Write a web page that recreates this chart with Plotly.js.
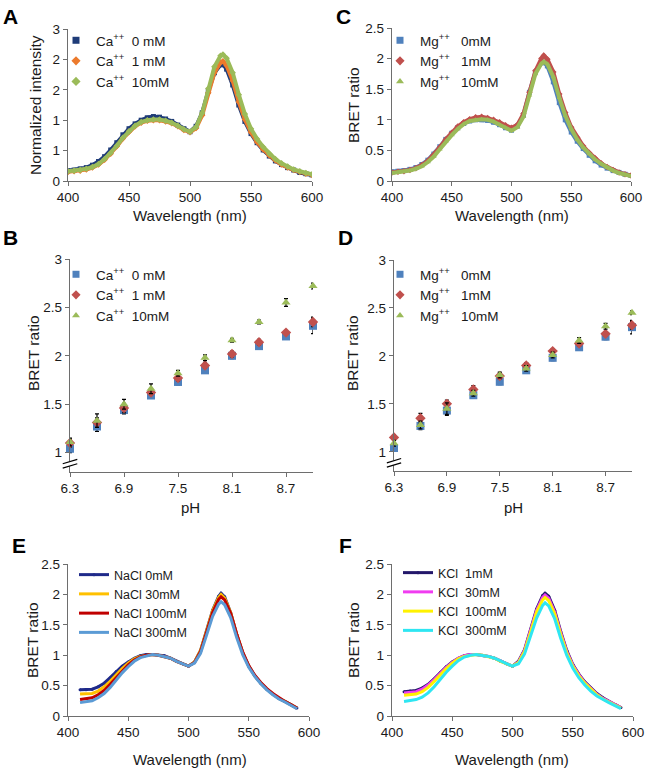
<!DOCTYPE html>
<html><head><meta charset="utf-8">
<script src="https://cdn.plot.ly/plotly-3.0.1.min.js"></script>
<style>html,body{margin:0;padding:0;background:#fff}#chart{width:648px;height:768px}</style>
</head><body><div id="chart"></div>
<script>
// ---------- DATA ----------
// Panels A & C: wavelength (nm)
const wlAC = [400,405,410,415,420,425,430,435,440,445,450,455,460,465,470,475,480,485,490,495,500,505,510,515,520,525,527,530,535,540,545,550,555,560,565,570,575,580,585,590,595,600];
// Panel A: Ca++
const namesA = ['Ca<sup>++</sup>  0 mM','Ca<sup>++</sup>  1 mM','Ca<sup>++</sup>  10mM'];
const ca0  = [0.17,0.18,0.20,0.22,0.26,0.32,0.40,0.51,0.63,0.76,0.86,0.94,1.00,1.04,1.06,1.05,1.02,0.98,0.92,0.86,0.81,0.90,1.12,1.48,1.78,1.91,1.92,1.84,1.58,1.25,0.98,0.78,0.63,0.51,0.41,0.33,0.27,0.22,0.18,0.14,0.12,0.10];
const ca1  = [0.15,0.16,0.17,0.19,0.22,0.27,0.35,0.45,0.57,0.70,0.81,0.90,0.96,0.99,1.00,1.00,0.98,0.95,0.90,0.84,0.80,0.87,1.08,1.45,1.78,1.95,1.97,1.90,1.65,1.30,1.01,0.80,0.64,0.52,0.42,0.34,0.27,0.22,0.18,0.15,0.12,0.10];
const ca10 = [0.16,0.17,0.18,0.20,0.23,0.28,0.36,0.46,0.58,0.71,0.82,0.91,0.97,1.00,1.01,1.01,0.99,0.96,0.91,0.85,0.81,0.89,1.12,1.52,1.88,2.06,2.08,2.02,1.78,1.42,1.10,0.86,0.69,0.56,0.45,0.36,0.29,0.24,0.19,0.16,0.13,0.11];
const ticktextA = ['0','1','1','2','2','3'];
// Panel C: Mg++
const namesC = ['Mg<sup>++</sup>   0mM','Mg<sup>++</sup>   1mM','Mg<sup>++</sup>   10mM'];
const mg0  = [0.15,0.16,0.17,0.19,0.22,0.27,0.34,0.44,0.56,0.68,0.78,0.87,0.94,0.98,1.00,1.00,0.99,0.96,0.92,0.87,0.83,0.90,1.08,1.45,1.78,1.93,1.94,1.88,1.62,1.28,1.00,0.80,0.65,0.53,0.42,0.33,0.26,0.21,0.17,0.14,0.11,0.09];
const mg1  = [0.14,0.15,0.16,0.18,0.21,0.26,0.33,0.43,0.55,0.68,0.79,0.89,0.96,1.01,1.04,1.05,1.03,1.00,0.96,0.91,0.87,0.92,1.10,1.45,1.80,2.00,2.05,1.99,1.78,1.42,1.12,0.88,0.71,0.57,0.46,0.37,0.29,0.23,0.18,0.14,0.11,0.09];
const mg10 = [0.13,0.14,0.15,0.17,0.20,0.24,0.31,0.40,0.52,0.64,0.75,0.85,0.93,0.98,1.00,1.01,1.00,0.97,0.92,0.87,0.82,0.88,1.05,1.40,1.75,1.92,1.95,1.91,1.70,1.36,1.07,0.85,0.68,0.55,0.44,0.35,0.28,0.22,0.17,0.13,0.10,0.08];
// Panels B & D: pH
const pH = [6.3,6.6,6.9,7.2,7.5,7.8,8.1,8.4,8.7,9.0];
const pHticks = [6.3,6.9,7.5,8.1,8.7];
const namesB = ['Ca<sup>++</sup>  0 mM','Ca<sup>++</sup>  1 mM','Ca<sup>++</sup>  10mM'];
const bCa0  = [1.04,1.27,1.44,1.59,1.73,1.85,2.00,2.10,2.20,2.31];
const bCa1  = [1.10,1.31,1.46,1.62,1.77,1.90,2.02,2.14,2.24,2.35];
const bCa10 = [1.11,1.33,1.50,1.66,1.82,1.98,2.16,2.35,2.55,2.72];
const eCa0  = [0.04,0.05,0.04,0.03,0.03,0.03,0.03,0.03,0.03,0.08];
const eCa1  = [0.04,0.05,0.05,0.03,0.03,0.03,0.03,0.03,0.02,0.05];
const eCa10 = [0.04,0.07,0.05,0.05,0.03,0.03,0.02,0.02,0.04,0.03];
const namesD = ['Mg<sup>++</sup>   0mM','Mg<sup>++</sup>   1mM','Mg<sup>++</sup>   10mM'];
const dMg0  = [1.04,1.27,1.43,1.59,1.73,1.85,1.98,2.09,2.20,2.30];
const dMg1  = [1.15,1.35,1.50,1.65,1.79,1.90,2.05,2.13,2.23,2.32];
const dMg10 = [1.09,1.28,1.45,1.61,1.80,1.87,2.01,2.16,2.31,2.45];
const eMg0  = [0.03,0.04,0.05,0.03,0.03,0.03,0.03,0.03,0.03,0.07];
const eMg1  = [0.03,0.05,0.04,0.04,0.03,0.03,0.02,0.03,0.02,0.04];
const eMg10 = [0.03,0.04,0.06,0.03,0.03,0.03,0.03,0.03,0.03,0.02];
// Panels E & F: wavelength (nm)
const wlEF = [410,415,420,425,430,435,440,445,450,455,460,465,470,475,480,485,490,495,500,505,510,515,520,525,527,530,535,540,545,550,555,560,565,570,575,580,585,590];
const namesE = ['NaCl 0mM','NaCl 30mM','NaCl 100mM','NaCl 300mM'];
const na0   = [0.43,0.43,0.44,0.48,0.54,0.63,0.73,0.82,0.89,0.95,0.99,1.01,1.01,1.00,0.99,0.95,0.90,0.86,0.82,0.89,1.08,1.40,1.74,1.97,2.02,1.96,1.70,1.34,1.04,0.82,0.66,0.54,0.44,0.36,0.29,0.24,0.19,0.13];
const na30  = [0.36,0.36,0.37,0.41,0.48,0.57,0.68,0.78,0.87,0.94,0.98,1.00,1.01,1.00,0.98,0.95,0.90,0.86,0.82,0.89,1.08,1.40,1.73,1.95,2.00,1.94,1.70,1.34,1.04,0.82,0.66,0.54,0.44,0.36,0.29,0.24,0.19,0.13];
const na100 = [0.27,0.28,0.30,0.35,0.42,0.52,0.63,0.74,0.84,0.92,0.97,1.00,1.01,1.00,0.98,0.95,0.90,0.86,0.82,0.88,1.06,1.38,1.70,1.92,1.96,1.91,1.69,1.35,1.05,0.83,0.67,0.55,0.45,0.37,0.30,0.24,0.19,0.13];
const na300 = [0.22,0.23,0.25,0.30,0.37,0.47,0.59,0.71,0.81,0.90,0.96,0.99,1.01,1.00,0.98,0.95,0.90,0.86,0.82,0.87,1.03,1.33,1.64,1.84,1.88,1.83,1.62,1.29,1.01,0.80,0.65,0.53,0.43,0.35,0.28,0.23,0.18,0.12];
const namesF = ['KCl  1mM','KCl  30mM','KCl  100mM','KCl  300mM'];
const k1   = [0.40,0.41,0.42,0.46,0.52,0.61,0.71,0.81,0.89,0.95,0.99,1.01,1.01,1.00,0.98,0.95,0.90,0.86,0.82,0.90,1.09,1.42,1.76,1.98,2.02,1.97,1.74,1.39,1.08,0.85,0.69,0.56,0.46,0.37,0.30,0.24,0.19,0.14];
const k30  = [0.38,0.39,0.40,0.44,0.51,0.60,0.70,0.80,0.88,0.95,0.99,1.01,1.01,1.00,0.98,0.95,0.90,0.86,0.82,0.89,1.08,1.41,1.74,1.95,1.99,1.94,1.71,1.37,1.06,0.84,0.68,0.55,0.45,0.36,0.29,0.24,0.19,0.14];
const k100 = [0.34,0.35,0.36,0.40,0.47,0.57,0.68,0.78,0.87,0.94,0.98,1.00,1.01,1.00,0.98,0.95,0.90,0.86,0.82,0.88,1.06,1.38,1.71,1.91,1.95,1.90,1.68,1.34,1.04,0.82,0.66,0.54,0.44,0.35,0.28,0.23,0.18,0.13];
const k300 = [0.24,0.25,0.27,0.31,0.38,0.48,0.60,0.72,0.82,0.91,0.97,1.00,1.01,1.00,0.98,0.95,0.90,0.86,0.82,0.86,1.02,1.31,1.61,1.82,1.86,1.81,1.60,1.28,1.00,0.79,0.63,0.51,0.41,0.33,0.27,0.22,0.17,0.12];

// ---------- STYLE ----------
const FONT = '"Liberation Sans", Arial, sans-serif';
const W = 648, H = 768;
const px = v => v / W, py = v => 1 - v / H;
const AX = '#6e6e6e';
const TXT = '#1a1a1a';
const colA = ['#1f3c78','#ec7a2c','#9bbb59'];
const colC = ['#4f81bd','#c0504d','#9bbb59'];
const colE = ['#1f2a8a','#ffc000','#c00000','#5b9bd5'];
const colF = ['#23176a','#f03cf0','#fff200','#2ee6f2'];

const traces = [];
function spectra(xs, ys, names, cols, syms, ax, leg) {
  ys.forEach((y, i) => {
    traces.push({x: xs, y: y, type: 'scatter', mode: 'lines+markers', xaxis: 'x' + ax, yaxis: 'y' + ax,
      line: {color: cols[i], width: 4}, marker: {color: cols[i], symbol: syms[i], size: 5},
      showlegend: false, hoverinfo: 'skip'});
  });
  names.forEach((n, i) => {
    traces.push({x: [null], y: [null], type: 'scatter', mode: 'markers', name: n, legend: leg,
      xaxis: 'x' + ax, yaxis: 'y' + ax, marker: {color: cols[i], symbol: syms[i], size: 7}});
  });
}
function phPanel(ys, errs, names, cols, syms, ax, leg) {
  ys.forEach((y, i) => {
    traces.push({x: pH, y: y, type: 'scatter', mode: 'markers', xaxis: 'x' + ax, yaxis: 'y' + ax,
      marker: {color: cols[i], symbol: syms[i], size: 8}, cliponaxis: false,
      error_y: {type: 'data', array: errs[i], visible: true, color: '#000', thickness: 1.2, width: 2},
      showlegend: false, hoverinfo: 'skip'});
  });
  names.forEach((n, i) => {
    traces.push({x: [null], y: [null], type: 'scatter', mode: 'markers', name: n, legend: leg,
      xaxis: 'x' + ax, yaxis: 'y' + ax, marker: {color: cols[i], symbol: syms[i], size: 7}});
  });
}
function linePanel(xs, ys, names, cols, ax, leg) {
  ys.forEach((y, i) => {
    traces.push({x: xs, y: y, type: 'scatter', mode: i === 0 ? 'lines+markers' : 'lines', xaxis: 'x' + ax, yaxis: 'y' + ax,
      line: {color: cols[i], width: 3}, marker: {color: cols[i], size: 3},
      showlegend: false, hoverinfo: 'skip'});
  });
  names.forEach((n, i) => {
    traces.push({x: [null], y: [null], type: 'scatter', mode: i === 0 ? 'lines+markers' : 'lines', name: n, legend: leg,
      xaxis: 'x' + ax, yaxis: 'y' + ax, line: {color: cols[i], width: 3}, marker: {color: cols[i], size: 3}});
  });
}

spectra(wlAC, [ca0, ca1, ca10], namesA, colA, ['square','diamond','diamond'], '', 'legend');
spectra(wlAC, [mg0, mg1, mg10], namesC, colC, ['square','diamond','triangle-up'], '2', 'legend2');
phPanel([bCa0, bCa1, bCa10], [eCa0, eCa1, eCa10], namesB, colC, ['square','diamond','triangle-up'], '3', 'legend3');
phPanel([dMg0, dMg1, dMg10], [eMg0, eMg1, eMg10], namesD, colC, ['square','diamond','triangle-up'], '4', 'legend4');
linePanel(wlEF, [na0, na30, na100, na300], namesE, colE, '5', 'legend5');
linePanel(wlEF, [k1, k30, k100, k300], namesF, colF, '6', 'legend6');

function axis(extra) {
  return Object.assign({showline: true, linecolor: AX, linewidth: 1.2, ticks: 'outside', ticklen: 4,
    tickcolor: AX, showgrid: false, zeroline: false, fixedrange: true,
    tickfont: {family: FONT, size: 13.5, color: TXT}}, extra);
}
const wlTicks = [400,450,500,550,600];
const yTicks25 = [0,0.5,1,1.5,2,2.5];
const yTicks3 = [1,1.5,2,2.5,3];

function legend(xp, yp, fs) {
  return {x: px(xp), y: py(yp), xanchor: 'left', yanchor: 'top', bgcolor: 'rgba(0,0,0,0)',
    font: {family: FONT, size: fs, color: TXT}, tracegroupgap: 0, itemwidth: 30, itemclick: false};
}
function ann(text, x, y, size, bold, angle) {
  return {text: bold ? '<b>' + text + '</b>' : text, x: px(x), y: py(y), xref: 'paper', yref: 'paper',
    xanchor: 'center', yanchor: 'middle', showarrow: false, textangle: angle || 0,
    font: {family: FONT, size: size, color: bold ? '#000' : TXT}};
}

const layout = {
  width: W, height: H, margin: {l: 0, r: 0, t: 0, b: 0}, paper_bgcolor: '#fff', plot_bgcolor: 'rgba(0,0,0,0)',
  showlegend: true,
  xaxis:  axis({domain: [px(68), px(312)], range: [400,600], tickvals: wlTicks, anchor: 'y'}),
  yaxis:  axis({domain: [py(181), py(29)], range: [0,2.5], tickvals: yTicks25, ticktext: ticktextA, anchor: 'x'}),
  xaxis2: axis({domain: [px(392), px(631)], range: [400,600], tickvals: wlTicks, anchor: 'y2'}),
  yaxis2: axis({domain: [py(181), py(28)], range: [0,2.5], tickvals: yTicks25, anchor: 'x2'}),
  xaxis3: axis({domain: [px(70), px(313)], range: [6.3,9.0], tickvals: pHticks, anchor: 'y3'}),
  yaxis3: axis({domain: [py(472), py(259)], range: [0.8,3], tickvals: yTicks3, anchor: 'x3'}),
  xaxis4: axis({domain: [px(394), px(632)], range: [6.3,9.0], tickvals: pHticks, anchor: 'y4'}),
  yaxis4: axis({domain: [py(471), py(260)], range: [0.8,3], tickvals: yTicks3, anchor: 'x4'}),
  xaxis5: axis({domain: [px(68), px(309)], range: [400,600], tickvals: wlTicks, anchor: 'y5'}),
  yaxis5: axis({domain: [py(716), py(564)], range: [0,2.5], tickvals: yTicks25, anchor: 'x5'}),
  xaxis6: axis({domain: [px(392), px(633)], range: [400,600], tickvals: wlTicks, anchor: 'y6'}),
  yaxis6: axis({domain: [py(716), py(564)], range: [0,2.5], tickvals: yTicks25, anchor: 'x6'}),
  legend:  legend(56, 25, 13.5),
  legend2: legend(380, 25, 13.5),
  legend3: legend(56, 259, 13.5),
  legend4: legend(380, 259, 13.5),
  legend5: legend(74, 560, 12.5),
  legend6: legend(398, 558, 12.5),
  annotations: [
    ann('A', 10, 16, 21, true), ann('C', 343, 16, 21, true),
    ann('B', 10, 238, 21, true), ann('D', 345, 238, 21, true),
    ann('E', 19, 545, 21, true), ann('F', 345, 545, 21, true),
    ann('Normalized intensity', 35, 105, 15.5, false, -90),
    ann('BRET ratio', 353, 105, 15.5, false, -90),
    ann('BRET ratio', 33, 353, 15.5, false, -90),
    ann('BRET ratio', 352, 353, 15.5, false, -90),
    ann('BRET ratio', 32, 640, 15.5, false, -90),
    ann('BRET ratio', 353, 640, 15.5, false, -90),
    ann('Wavelength (nm)', 190, 215, 15, false),
    ann('Wavelength (nm)', 512, 215, 15, false),
    ann('pH', 191, 507, 15, false),
    ann('pH', 513, 507, 15, false),
    ann('Wavelength (nm)', 190, 759, 15, false),
    ann('Wavelength (nm)', 512, 759, 15, false)
  ],
  shapes: []
};
// axis-break marks on B and D
[['x3','y3'],['x4','y4']].forEach(([xa, ya]) => {
  layout.shapes.push({type: 'rect', xref: xa + ' domain', yref: ya, x0: -0.012, x1: 0.012, y0: 0.86, y1: 0.91,
    fillcolor: '#fff', line: {width: 0}, layer: 'above'});
  layout.shapes.push({type: 'line', xref: xa + ' domain', yref: ya, x0: -0.03, x1: 0.03, y0: 0.84, y1: 0.885,
    line: {color: '#000', width: 1.2}, layer: 'above'});
  layout.shapes.push({type: 'line', xref: xa + ' domain', yref: ya, x0: -0.03, x1: 0.03, y0: 0.885, y1: 0.93,
    line: {color: '#000', width: 1.2}, layer: 'above'});
});

Plotly.newPlot('chart', traces, layout, {staticPlot: true, displayModeBar: false});
</script>
</body></html>
